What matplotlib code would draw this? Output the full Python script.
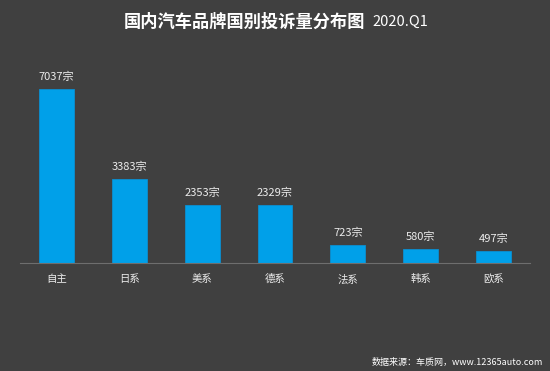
import matplotlib
matplotlib.use("Agg")
import matplotlib.pyplot as plt

plt.rcParams['font.family'] = ['Noto Sans CJK SC', 'DejaVu Sans']

categories = ['自主', '日系', '美系', '德系', '法系', '韩系', '欧系']
counts = [7037, 3383, 2353, 2329, 723, 580, 497]

bg = '#404040'
bar_color = '#00a0e9'
text_color = '#ececec'

fig = plt.figure(figsize=(5.5, 3.71), dpi=100, facecolor=bg)
ax = fig.add_axes([20/550, (371-263)/371, 510/550, 203/371], facecolor=bg)

x = range(len(categories))
bars = ax.bar(x, counts, width=0.48, color=bar_color, edgecolor='#0b8fd0', lw=0.6)
for xi, v in zip(x, counts):
    ax.annotate(f'{v}宗', (xi, v), xytext=(0, 5), textcoords='offset points',
                ha='center', va='bottom', fontsize=8, fontweight='medium',
                color=text_color)

ax.set_xlim(-0.5, len(categories) - 0.5)
ax.set_ylim(0, 8210)
ax.set_xticks(list(x), categories, fontsize=7.5, color=text_color)
ax.tick_params(axis='x', length=0, pad=8)
ax.set_yticks([])
for s in ['top', 'right', 'left']:
    ax.spines[s].set_visible(False)
ax.spines['bottom'].set_color('#6e6e6e')
ax.spines['bottom'].set_linewidth(0.8)

fig.text(365/550, 1 - 22/371, '国内汽车品牌国别投诉量分布图', ha='right', va='center',
         fontsize=12.4, fontweight='bold', color='white')
fig.text(372/550, 1 - 22/371, '2020.Q1', ha='left', va='center',
         fontsize=10.5, color='white')
fig.text(543/550, 1 - 363/371, '数据来源：车质网，www.12365auto.com', ha='right', va='center',
         fontsize=6.5, fontweight='medium', color='white')

fig.savefig('out.png', dpi=100, facecolor=bg)
